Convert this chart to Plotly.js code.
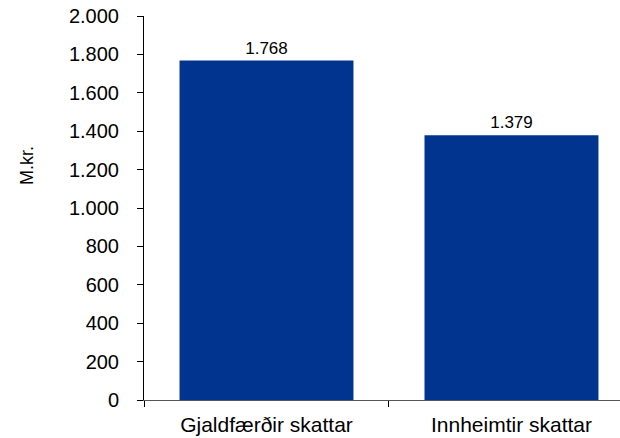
<!DOCTYPE html>
<html>
<head>
<meta charset="utf-8">
<script src="https://cdn.plot.ly/plotly-3.0.1.min.js"></script>
<style>html,body{margin:0;padding:0;background:#fff;overflow:hidden}</style>
</head>
<body>
<div id="chart" style="width:620px;height:438px"></div>
<script>
const categories = ["Gjaldfærðir skattar", "Innheimtir skattar"];
const values = [1768, 1379];
const yTitle = "M.kr.";

const trace = {
  type: "bar",
  x: categories,
  y: values,
  marker: {color: "#00348F", line: {width: 0}},
  width: 0.71,
  texttemplate: "%{y:,}",
  textposition: "outside",
  textfont: {family: "Liberation Sans, Arial, sans-serif", size: 17, color: "#000"},
  cliponaxis: false,
  hoverinfo: "none"
};

const layout = {
  width: 620, height: 438,
  margin: {l: 144, r: 0, t: 16, b: 37.5},
  paper_bgcolor: "#fff", plot_bgcolor: "#fff",
  separators: ",.",
  showlegend: false,
  font: {family: "Liberation Sans, Arial, sans-serif", size: 16, color: "#000"},
  xaxis: {
    type: "category",
    range: [-0.5, 1.443],
    tickson: "boundaries",
    ticks: "outside", ticklen: 6, tickcolor: "#000", tickwidth: 1,
    showline: true, linecolor: "#555", linewidth: 1,
    showgrid: false, zeroline: false,
    ticklabelstandoff: 6,
    tickfont: {size: 21}
  },
  yaxis: {
    range: [0, 2000],
    dtick: 200, tick0: 0,
    tickformat: ",",
    ticks: "outside", ticklen: 6, tickcolor: "#000", tickwidth: 1,
    showline: true, linecolor: "#000", linewidth: 1,
    showgrid: false, zeroline: false,
    ticklabelstandoff: 14,
    tickfont: {size: 20}
  },
  annotations: [{
    text: yTitle, textangle: -90,
    xref: "paper", yref: "paper",
    x: -0.246, y: 0.612,
    xanchor: "center", yanchor: "middle",
    showarrow: false,
    font: {size: 18, color: "#000"}
  }]
};

Plotly.newPlot("chart", [trace], layout, {displayModeBar: false, staticPlot: true});
</script>
</body>
</html>
